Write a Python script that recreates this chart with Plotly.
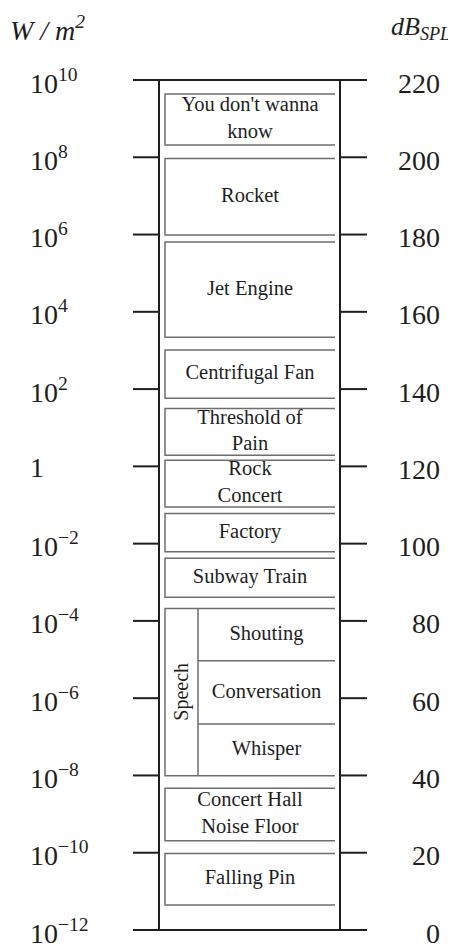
import plotly.graph_objects as go

# dB SPL scale with the matching sound intensity in W/m^2
db_ticks = [0, 20, 40, 60, 80, 100, 120, 140, 160, 180, 200, 220]
db_labels = ["0", "20", "40", "60", "80", "100", "120", "140", "160", "180", "200", "220"]
intensity_labels = ["10<sup>\u221212</sup>", "10<sup>\u221210</sup>", "10<sup>\u22128</sup>",
                    "10<sup>\u22126</sup>", "10<sup>\u22124</sup>", "10<sup>\u22122</sup>", "1",
                    "10<sup>2</sup>", "10<sup>4</sup>", "10<sup>6</sup>", "10<sup>8</sup>",
                    "10<sup>10</sup>"]

# sound sources: range in dB SPL
sources = ["Falling Pin", "Concert Hall<br>Noise Floor", "Subway Train", "Factory",
           "Rock<br>Concert", "Threshold of<br>Pain", "Centrifugal Fan", "Jet Engine",
           "Rocket", "You don't wanna<br>know"]
source_low = [6.5, 23.1, 86.1, 97.9, 109.5, 122.9, 137.6, 153.4, 179.9, 203.2]
source_high = [19.8, 36.7, 96.2, 107.8, 121.6, 135.0, 150.1, 178.1, 199.7, 216.4]

# speech group and its parts
speech_label = "Speech"
speech_range = [39.9, 83.2]
speech_parts = ["Whisper", "Conversation", "Shouting"]
speech_low = [39.9, 53.3, 69.7]
speech_high = [53.3, 69.7, 83.2]

W, H = 456, 949
OFF = 8  # page body margin, the figure starts 8px in
FONT = "Liberation Serif"
INK = "#1e1e1e"
BOX = "#6e6e6e"

# layout positions (x in page pixels)
X_TICK_L0, X_FRAME_L, X_FRAME_R, X_TICK_R1 = 133, 159, 340, 367
X_BOX_L, X_BOX_R, X_SPEECH_DIV = 165, 335, 198

# 0 dB sits at 930 px and 220 dB at 80 px on the page
px_per_db = (930 - 80) / 220


def page_y(px):
    return (930 - px) / px_per_db


fig = go.Figure()

# column frame
fx, fy = [], []
for side in (X_FRAME_L, X_FRAME_R):
    fx += [side, side, None]
    fy += [db_ticks[0], db_ticks[-1], None]
for t in db_ticks:
    if t in (db_ticks[0], db_ticks[-1]):
        fx += [X_TICK_L0, X_TICK_R1, None]
        fy += [t, t, None]
    else:
        fx += [X_TICK_L0, X_FRAME_L, None, X_FRAME_R, X_TICK_R1, None]
        fy += [t, t, None, t, t, None]
fig.add_trace(go.Scatter(x=fx, y=fy, mode='lines', line=dict(color=INK, width=2),
                         hoverinfo='skip', showlegend=False))

# source boxes (open on the right side)
bx, by = [], []
for lo, hi in zip(source_low + [speech_range[0]], source_high + [speech_range[1]]):
    bx += [X_BOX_R, X_BOX_L, X_BOX_L, X_BOX_R, None]
    by += [hi, hi, lo, lo, None]
# speech subdivisions
bx += [X_SPEECH_DIV, X_SPEECH_DIV, None]
by += [speech_range[0], speech_range[1], None]
for lo in speech_low[1:]:
    bx += [X_SPEECH_DIV, X_BOX_R, None]
    by += [lo, lo, None]
fig.add_trace(go.Scatter(x=bx, y=by, mode='lines', line=dict(color=BOX, width=1.5),
                         hoverinfo='skip', showlegend=False))

# box labels
fig.add_trace(go.Scatter(
    x=[(X_BOX_L + X_BOX_R) / 2] * len(sources),
    y=[(lo + hi) / 2 for lo, hi in zip(source_low, source_high)],
    text=sources, mode='text', textposition='middle center',
    textfont=dict(family=FONT, size=20.5, color=INK),
    hoverinfo='skip', showlegend=False))
fig.add_trace(go.Scatter(
    x=[(X_SPEECH_DIV + X_BOX_R) / 2] * len(speech_parts),
    y=[(lo + hi) / 2 for lo, hi in zip(speech_low, speech_high)],
    text=speech_parts, mode='text', textposition='middle center',
    textfont=dict(family=FONT, size=20.5, color=INK),
    hoverinfo='skip', showlegend=False))
fig.add_annotation(x=(X_BOX_L + X_SPEECH_DIV) / 2, y=sum(speech_range) / 2,
                   text=speech_label, textangle=-90, showarrow=False,
                   font=dict(family=FONT, size=20, color=INK))

# tick labels
for t, lab in zip(db_ticks, intensity_labels):
    fig.add_annotation(x=28, y=t, text=lab, xanchor='left', yanchor='middle',
                       yshift=-1, showarrow=False,
                       font=dict(family=FONT, size=28, color=INK))
for t, lab in zip(db_ticks, db_labels):
    fig.add_annotation(x=442, y=t, text=lab, xanchor='right', yanchor='middle',
                       yshift=-3, showarrow=False,
                       font=dict(family=FONT, size=28, color=INK))

# axis headers
fig.add_annotation(x=8, y=page_y(28), xanchor='left', yanchor='middle',
                   text="<i>W / m<sup>2</sup></i>", showarrow=False,
                   font=dict(family=FONT, size=28, color=INK))
fig.add_annotation(x=452, y=page_y(28), xanchor='right', yanchor='middle',
                   text="<i>dB<sub>SPL</sub></i>", showarrow=False,
                   font=dict(family=FONT, size=26, color=INK))

fig.update_layout(
    width=W, height=H,
    margin=dict(l=0, r=0, t=0, b=0),
    paper_bgcolor='white', plot_bgcolor='white',
    xaxis=dict(range=[OFF, W + OFF], visible=False, fixedrange=True),
    yaxis=dict(range=[page_y(H + OFF), page_y(OFF)], visible=False, fixedrange=True),
    showlegend=False,
)

fig.write_html("out.html")
